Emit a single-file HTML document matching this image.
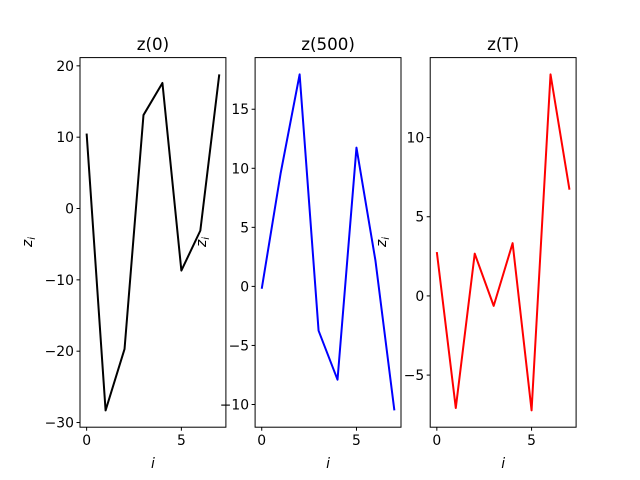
<!DOCTYPE html>
<html><head><meta charset="utf-8"><style>
body{margin:0;background:#fff}
svg{display:block;font-family:"DejaVu Sans","Liberation Sans",sans-serif}
</style></head><body>
<svg id="chart" width="640" height="480" viewBox="0 0 640 480" xmlns="http://www.w3.org/2000/svg"></svg>
<script>
const indices = [0,1,2,3,4,5,6,7];
const z0Values = [10.5,-28.3,-19.7,13.1,17.6,-8.7,-3.1,18.8];
const z500Values = [-0.2,9.6,17.95,-3.75,-7.9,11.75,2.2,-10.5];
const zTValues = [2.77,-7.08,2.67,-0.63,3.33,-7.23,13.99,6.71];
const titles = ["z(0)","z(500)","z(T)"];
const colors = ["#000000","#0000ff","#ff0000"];
const xTicks = [0,5];
const yTicks1 = [-30,-20,-10,0,10,20];
const yTicks2 = [-10,-5,0,5,10,15];
const yTicks3 = [-5,0,5,10];

const svgEl = document.getElementById('chart');
const NS = 'http://www.w3.org/2000/svg';
function mk(tag, attrs, parent){const e=document.createElementNS(NS,tag);for(const k in attrs)e.setAttribute(k,attrs[k]);(parent||svgEl).appendChild(e);return e;}

const series=[z0Values,z500Values,zTValues];
const yTicksAll=[yTicks1,yTicks2,yTicks3];
const axTop=57.6,axBottom=427.2,axW=145.9,axGap=29.2,axLeft0=80;
for(let p=0;p<3;p++){
  const vals=series[p];
  const L=axLeft0+p*(axW+axGap),R=L+axW;
  const g=mk('g',{});
  
  
  const xmin=Math.min(...indices),xmax=Math.max(...indices),xp=(xmax-xmin)*0.05;
  const ymin=Math.min(...vals),ymax=Math.max(...vals),yp=(ymax-ymin)*0.05;
  const xs=v=>L+(v-(xmin-xp))/((xmax+xp)-(xmin-xp))*axW;
  const ys=v=>axBottom-(v-(ymin-yp))/((ymax+yp)-(ymin-yp))*(axBottom-axTop);
  const pts=indices.map((x,i)=>xs(x).toFixed(2)+','+ys(vals[i]).toFixed(2)).join(' ');
  const line=mk('polyline',{points:pts,fill:'none',stroke:colors[p],'stroke-width':2,'stroke-linejoin':'round'},g);
  
  
  const fr=mk('rect',{x:L,y:axTop,width:axW,height:axBottom-axTop,fill:'none',stroke:'#000','stroke-width':1},g);
  
  
  xTicks.forEach(t=>{
    const x=xs(t);
    mk('line',{x1:x,x2:x,y1:axBottom,y2:axBottom+3.5,stroke:'#000'},g);
    const tx=mk('text',{x:x,y:axBottom+18,'text-anchor':'middle','font-size':13.9,fill:'#000'},g);
    tx.textContent=t;
    
    
  });
  yTicksAll[p].forEach(t=>{
    const y=ys(t);
    mk('line',{x1:L,x2:L-3.5,y1:y,y2:y,stroke:'#000'},g);
    const tx=mk('text',{x:L-6,y:y+5,'text-anchor':'end','font-size':13.9,fill:'#000'},g);
    tx.textContent=String(t).replace('-','\u2212');
    
    
  });
  const ti=mk('text',{x:(L+R)/2,y:50,'text-anchor':'middle','font-size':16.7,fill:'#000'},g);
  ti.textContent=titles[p];
  
  
  const xl=mk('text',{x:(L+R)/2,y:468,'text-anchor':'middle','font-size':13.9,'font-style':'italic',fill:'#000'},g);
  xl.textContent='i';
  
  
  const yx=[32,206,386][p];
  const yl=mk('text',{x:yx,y:242,'text-anchor':'middle','font-size':13.9,'font-style':'italic',fill:'#000',transform:`rotate(-90 ${yx} 242)`},g);
  
  
  yl.appendChild(document.createTextNode('z'));
  const sub=mk('tspan',{'font-size':10,dy:3},yl);
  sub.textContent='i';
}
</script>
</body></html>
